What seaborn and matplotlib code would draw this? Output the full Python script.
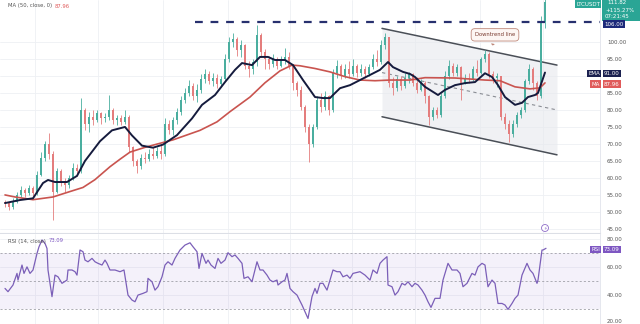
import numpy as np
import pandas as pd
import matplotlib
matplotlib.use("Agg")
import matplotlib.pyplot as plt
from matplotlib.patches import Rectangle
import seaborn as sns

# ---------------- data ----------------
first_open = 53.0
close = [52.5, 51.5, 53, 55, 56.5, 55.5, 57, 55.5, 61, 66,
         70, 67, 56, 62, 59, 58, 60, 63, 62, 80,
         76, 78, 77, 79, 77.5, 78, 80, 77, 77.5, 76.5,
         78, 69, 65, 63.5, 66, 65.5, 67, 66.5, 68, 67,
         76, 74, 77, 79.5, 83, 85, 87, 84, 86, 89,
         90.5, 88.5, 89.5, 87.5, 89, 95, 100, 101, 97.5, 99,
         93, 92, 94, 102, 97, 95, 93.5, 95, 93, 94.5,
         95.5, 93, 88, 86, 81, 75, 70, 75, 83, 81,
         84, 80, 91, 93, 90, 92, 90.5, 93, 91, 92,
         90.5, 92.5, 95, 94, 99, 101.5, 88, 86.5, 89, 87,
         89.5, 90.5, 88, 86, 88, 84, 78, 80, 78.5, 84,
         90, 93, 91, 92.5, 88, 89.5, 89, 92, 91, 95,
         96.5, 90.5, 89.5, 90, 78, 76, 73, 76, 78.5, 80,
         88.5, 92, 88, 84, 106, 111.82]
high = [53.5, 53, 54, 56, 57.5, 57, 58, 57.5, 62, 67.5,
        71, 73.2, 68, 63, 62.5, 60, 61, 64.5, 64, 83.5,
        80.5, 79.5, 80, 80, 79.5, 79, 84.4, 80.5, 78.5, 78.5,
        80, 78.5, 69.5, 65.5, 67, 67.5, 68.5, 69, 69, 70,
        77.6, 77, 78, 80.5, 84, 86.5, 88.8, 88, 87.5, 90.5,
        92, 91.5, 91, 90.5, 90, 96.5, 101.5, 102.6, 101.5, 100.5,
        99.5, 94.5, 95, 105, 102.5, 98, 96, 96.5, 95.5, 96,
        98.2, 97, 93.5, 88.5, 87, 81.5, 76, 76, 84, 85,
        85.5, 84.5, 92, 94.7, 93.5, 93.5, 94.5, 95, 93.5, 93.5,
        93, 93.5, 96.5, 97.6, 100.5, 102.6, 101.5, 89.7, 90, 90,
        91, 91.2, 91, 89.7, 89, 88.5, 84.5, 81, 81, 85,
        91.5, 94.7, 93.8, 93.5, 93, 90.5, 91, 93, 94.7, 95.5,
        97.5, 97, 91.5, 90.8, 90, 79, 77, 77, 79.5, 81,
        89, 93.5, 92.5, 88.5, 107.5, 114]
low = [51.5, 50.5, 51, 52.5, 54.5, 54.5, 55, 54.8, 55, 60.5,
       65, 65.5, 47.6, 55.5, 57.5, 56, 57, 59.5, 60.5, 61.5,
       74, 73.5, 75.5, 76.5, 76, 76.5, 77, 76, 75.5, 75.5,
       76, 67.5, 63.5, 61.5, 62.5, 64.5, 65, 65.5, 66, 65.5,
       66.5, 73, 72.5, 76, 78.5, 82, 84, 83, 82.4, 85,
       88, 87.5, 87, 86.5, 86.8, 88.5, 94, 98.5, 96, 95.5,
       92, 89.7, 90.5, 93, 95.5, 92, 92, 92.5, 92, 92.5,
       93.5, 92, 86, 84, 80, 73.5, 64.7, 69, 74.5, 79.5,
       80, 78.5, 79.5, 89.5, 89, 89.5, 89.5, 90, 89.7, 90,
       89.5, 90, 92, 93, 93.5, 98, 86.8, 84.4, 85.5, 86,
       86.5, 88, 87, 85, 85.5, 82, 75.6, 77, 77.5, 78,
       83.5, 89, 90, 90, 82.9, 87.5, 88, 88.5, 90, 90.5,
       94, 89.5, 88, 86.8, 77, 74.5, 70.6, 72, 75, 77.5,
       79.5, 87.5, 86, 83, 83.5, 104]

ema_t = [0, 3.75, 7, 9.5, 10.75, 12.5, 15.5, 18, 20, 23.75, 26.75, 30, 31.75, 34.25,
         37, 39.5, 43, 46.75, 49.25, 52.5, 55, 57.5, 59.25, 61.75, 63.75, 65.75, 67.5,
         70, 72, 74.5, 76.25, 77.5, 79.5, 81.25, 82, 83.75, 86.25, 88.75, 91.25, 93.75,
         95.75, 97, 99.5, 101.25, 102.5, 105, 108.25, 110, 112.5, 115, 117.5, 120,
         121.75, 123.25, 125, 127.5, 129.25, 130.75, 132.5, 133.25, 135]
ema_v = [52.6, 53.5, 54, 58.5, 59.4, 58.8, 58.8, 60.6, 65, 70.8, 74, 75, 72.5, 69.5,
         68.9, 69.8, 72.6, 77.5, 81.5, 84.4, 88.2, 91.8, 93.8, 93.2, 95.6, 95.6, 94.7,
         94.7, 93.2, 88.8, 85.9, 83.8, 83.5, 83.5, 84.4, 86.4, 87.3, 88.8, 90.3, 91.8,
         94.1, 92.6, 91.2, 90.6, 89.7, 86.8, 84.4, 85.9, 87.3, 87.9, 88.2, 90.8,
         89.7, 87.3, 83.8, 81.5, 82.1, 83.8, 84.4, 85, 91.0]

ma_t = [0, 2.5, 7, 12, 16.25, 19.5, 22.5, 26.25, 28.75, 31.25, 35, 37.5, 42, 48.75,
        53, 56.25, 61.25, 65, 68.75, 71.75, 73.75, 77.5, 81.25, 85, 88.75, 92.5,
        96.25, 101.25, 105, 112.5, 120, 123.75, 127.5, 131.25, 133.75, 135]
ma_v = [55, 54.4, 53.6, 54.4, 56, 57.2, 59.5, 63.3, 65.5, 67.6, 69, 69.8, 71.2, 74,
        76.5, 79.5, 83.8, 88, 91.5, 93.2, 93, 92.2, 91.2, 89.8, 88.8, 88.6,
        88.8, 88.8, 89.5, 89.4, 88.8, 88.6, 86.8, 86.2, 86.5, 87.96]

rsi_t = [0, 0.75, 2, 3, 3.25, 4.25, 4.75, 5.5, 6.25, 7, 8, 8.5, 9.25, 10, 10.5, 10.75,
         11.75, 12.5, 13.25, 14.25, 15.5, 15.75, 16.75, 17.5, 18, 18.75, 19.5, 20,
         20.75, 21.75, 22.5, 23.25, 24.25, 25, 25.5, 26.25, 27.5, 28.75, 29.75, 30.75,
         31.75, 32.5, 33.25, 34.5, 35.5, 35.75, 36.75, 37.5, 38.25, 39.25, 40, 40.75,
         41.75, 42.5, 43.75, 45, 46.25, 47, 48, 48.5, 49.25, 50.25, 50.75, 51.5, 52.5,
         53.25, 54, 55, 55.75, 56.75, 57.5, 58.25, 59.25, 59.75, 60.75, 61.75, 63,
         63.75, 64.5, 65.5, 66.25, 67, 68, 68.25, 69.25, 70, 70.5, 71.25, 72, 73,
         74.25, 75, 75.75, 76.75, 77.5, 78, 78.75, 79.5, 80.5, 81.25, 82, 83, 83.75,
         84.5, 85.5, 86.25, 87, 88.75, 90, 91.25, 92, 93, 93.75, 94.5, 95.5, 95.75,
         96.75, 97.5, 98.25, 99.25, 100, 100.75, 101.75, 102.5, 103.25, 104.25, 105,
         105.75, 106.5, 107.5, 108.75, 109.5, 110.75, 111.75, 113, 113.75, 114.5,
         115.5, 116.75, 117.5, 118.25, 119.25, 120, 120.75, 121.75, 122.5, 123.25,
         124.25, 125, 125.75, 126.75, 127.5, 128.25, 129.25, 130.5, 131.25, 132, 133,
         133.25, 134.25, 134.5, 135.25]
rsi_v = [44.8, 42.5, 47.2, 55.4, 50.7, 61.3, 55.4, 60, 55.4, 57.8, 69.5, 74.2, 79, 76.6,
         73, 57.8, 39, 54.2, 53, 48.4, 50.7, 57.8, 57.8, 56.6, 54.2, 71.9, 70.7, 64.8,
         63.6, 66, 63.6, 62.5, 61.3, 64.8, 62.5, 57.8, 57.8, 56.6, 57.8, 40.1, 36.6,
         35.4, 40.1, 41.3, 42.5, 51.9, 49.5, 43.6, 46, 53, 61.3, 63.6, 61.3, 66, 71.9,
         75.4, 77, 74.2, 70.7, 58.9, 69.5, 62.5, 64.8, 61.3, 58.9, 66, 62.5, 64.8, 70,
         67.2, 68.4, 66, 62.5, 51.9, 53, 49.5, 63.6, 57.8, 57.8, 54.2, 50.7, 49.5,
         50.7, 47.2, 49.5, 50.7, 55.4, 44.8, 42.5, 40.1, 33.1, 28.4, 23.6, 39, 44.8,
         41.3, 48.4, 48.4, 43.6, 50.7, 57.8, 56.6, 56.6, 53, 54.2, 51.9, 55.4, 56.6,
         54.2, 50.7, 57.8, 55.4, 62.5, 64.8, 67.2, 47.2, 46, 40.1, 42.5, 48.4, 47.2,
         49.5, 46, 48.4, 47.2, 43.6, 40.1, 35.4, 31.4, 37.8, 37.8, 50.7, 62.5, 57.8,
         57.8, 55.4, 46, 48.4, 55.4, 54.2, 60, 62.5, 61.3, 46, 50.7, 48.4, 34.2, 34.2,
         33.1, 30, 34.2, 37.8, 40.1, 54.2, 62.5, 57.8, 55.4, 48.4, 50.7, 71.9, 71.9, 73.1]

price_ticks = [45, 50, 55, 60, 65, 70, 75, 80, 85, 90, 95, 100]
hidden_price_ticks = [90]          # covered by the EMA tag in the reference
rsi_ticks = [20, 40, 60, 80]
rsi_levels = [70, 50, 30]
date_grid = [7.5, 23.25, 39.5, 55.75, 71.25, 86.75, 102.5, 118.75, 134.5]
resistance = 106.0
resistance_start = 47.5
channel_t = [94.25, 138.0]
channel_upper = [104.0, 93.2]
channel_lower = [78.0, 66.8]
symbol = "LTCUSDT"
last_price = 111.82
change_txt = "+115.27%"
countdown = "07:21:45"
ema_last = 91.00
ma_last = 87.96
rsi_last = 73.09

# ---------------- styling ----------------
sns.set_theme(style="white")
plt.rcParams['font.family'] = ['DejaVu Sans']

W, H = 640, 324
fig = plt.figure(figsize=(6.4, 3.24), dpi=100)
fig.patch.set_facecolor("white")
ax = fig.add_axes([0, 1 - 233 / H, 600 / W, 233 / H])
axr = fig.add_axes([0, 0, 600 / W, 90 / H])

XL = (-1.25, 148.75)
UP, DN = "#4aae9f", "#e47d7d"
grid_c = "#eef0f4"

# ---- candles ----
opens = [first_open] + close[:-1]
df = pd.DataFrame({"t": np.arange(len(close)), "open": opens, "close": close,
                   "high": high, "low": low})
df["up"] = df["close"] >= df["open"]
colors = np.where(df["up"], UP, DN)

# channel fill and lines (behind candles)
ax.fill_between(channel_t, channel_lower, channel_upper, color="#e6e8ee", alpha=0.6, lw=0, zorder=1)
sns.lineplot(x=channel_t, y=channel_upper, ax=ax, color="#4a4f57", lw=1.1, zorder=3)
sns.lineplot(x=channel_t, y=channel_lower, ax=ax, color="#4a4f57", lw=1.1, zorder=3)
mid = [(a + b) / 2 for a, b in zip(channel_upper, channel_lower)]
ax.plot(channel_t, mid, color="#8a8d94", lw=0.8, ls=(0, (3, 3)), zorder=3)

ax.vlines(df["t"], df["low"], df["high"], colors=colors, lw=0.6, zorder=4)
ax.bar(df["t"], (df["close"] - df["open"]).abs().clip(lower=0.15),
       bottom=np.minimum(df["open"], df["close"]), width=0.6, color=colors,
       lw=0, zorder=4)

# moving averages
sns.lineplot(x=ma_t, y=ma_v, ax=ax, color="#c9544f", lw=1.2, zorder=5)
sns.lineplot(x=ema_t, y=ema_v, ax=ax, color="#151b3d", lw=1.4, zorder=6)

# resistance
ax.plot([resistance_start, XL[1]], [resistance, resistance], color="#27306e",
        lw=1.6, ls=(0, (3.5, 3.5)), zorder=6)

# annotation
ax.annotate("Downtrend line", xy=(121.75, 98.3), xytext=(122.5, 102.1),
            ha="center", va="center", fontsize=3.8, color="#7a3b30",
            bbox=dict(boxstyle="round,pad=0.7", fc="#fdf6f3", ec="#bf8a7c", lw=0.6),
            arrowprops=dict(arrowstyle="wedge,tail_width=0.5", fc="#fdf6f3",
                            ec="#bf8a7c", lw=0.6), zorder=8)

ax.set_xlim(*XL)
ax.set_ylim(43.8, 112.35)
ax.set_xticks(date_grid)
ax.set_xticklabels([])
ax.yaxis.tick_right()
ax.set_yticks(price_ticks)
ax.set_yticklabels(["" if v in hidden_price_ticks else f"{v:.2f}" for v in price_ticks])
ax.tick_params(axis="y", length=0, labelsize=4, colors="#555555", pad=5)
ax.tick_params(axis="x", length=0)
ax.grid(True, color=grid_c, lw=0.6)
for s in ["top", "left"]:
    ax.spines[s].set_visible(False)
ax.spines["right"].set_color("#e0e3eb")
ax.spines["right"].set_linewidth(0.6)
ax.spines["bottom"].set_color("#dcdfe6")
ax.spines["bottom"].set_linewidth(0.8)
ax.set_xlabel("")
ax.set_ylabel("")

# ---- RSI ----
axr.axhspan(rsi_levels[2], rsi_levels[0], color="#7e57c2", alpha=0.08, lw=0)
for lv in rsi_levels:
    axr.axhline(lv, color="#a0a0a8", lw=0.6, ls=(0, (2.5, 2.5)))
sns.lineplot(x=rsi_t, y=rsi_v, ax=axr, color="#7b5fb8", lw=0.9, zorder=5)
axr.set_xlim(*XL)
axr.set_ylim(19.7, 83.2)
axr.set_xticks(date_grid)
axr.set_xticklabels([])
axr.yaxis.tick_right()
axr.set_yticks(rsi_ticks)
axr.set_yticklabels([f"{v:.2f}" for v in rsi_ticks])
axr.tick_params(axis="y", length=0, labelsize=4, colors="#555555", pad=5)
axr.tick_params(axis="x", length=0)
for lbl in axr.get_yticklabels():
    if lbl.get_text() == f"{rsi_ticks[0]:.2f}":
        lbl.set_va("bottom")
axr.grid(True, color=grid_c, lw=0.6)
for s in ["top", "left", "bottom"]:
    axr.spines[s].set_visible(False)
axr.spines["right"].set_color("#e0e3eb")
axr.spines["right"].set_linewidth(0.6)
axr.set_xlabel("")
axr.set_ylabel("")

# ---- labels on the price scale ----
def fx(x):
    return x / W

def fy(y):
    return 1 - y / H

def tag(x, y, s, fc, ha="left", color="white", fs=4):
    fig.text(fx(x), fy(y), s, ha=ha, va="center", fontsize=fs, color=color,
             bbox=dict(boxstyle="square,pad=0.25", fc=fc, ec="none"), zorder=10)

fig.patches.append(Rectangle((fx(602), fy(20.5)), fx(38), 20.5 / H, transform=fig.transFigure,
                             fc="#2aa595", ec="none", zorder=9))
fig.text(fx(607), fy(3), f"{last_price:.2f}", fontsize=4, color="white", va="center", zorder=10)
fig.text(fx(605), fy(10), change_txt, fontsize=4, color="white", va="center", zorder=10)
fig.text(fx(605), fy(17), countdown, fontsize=4, color="white", va="center", zorder=10)
tag(600, 4, symbol, "#2aa595", ha="right")
tag(604, 24, f"{resistance:.2f}", "#1d2a7a")
tag(600, 73.5, "EMA", "#1b2150", ha="right")
tag(604, 73.5, f"{ema_last:.2f}", "#1b2150")
tag(600, 84, "MA", "#e05a5a", ha="right")
tag(604, 84, f"{ma_last:.2f}", "#e05a5a")
tag(600, 249.5, "RSI", "#7e57c2", ha="right")
tag(604, 249.5, f"{rsi_last:.2f}", "#7e57c2")

# legend texts
fig.text(fx(8), fy(6), "MA (50, close, 0)", fontsize=3.8, color="#555555", va="center")
fig.text(fx(55), fy(6), f"{ma_last:.2f}", fontsize=3.8, color="#e05a5a", va="center")
fig.text(fx(8), fy(241), "RSI (14, close)", fontsize=3.8, color="#555555", va="center")
fig.text(fx(49), fy(241), f"{rsi_last:.2f}", fontsize=3.8, color="#7e57c2", va="center")

# event marker
fig.text(fx(545), fy(228), "\u26a1", fontsize=3.5, color="#8e6cc8", ha="center", va="center",
         bbox=dict(boxstyle="circle,pad=0.2", fc="white", ec="#8e6cc8", lw=0.6), zorder=10)

fig.savefig("out.png", dpi=100, facecolor="white")
